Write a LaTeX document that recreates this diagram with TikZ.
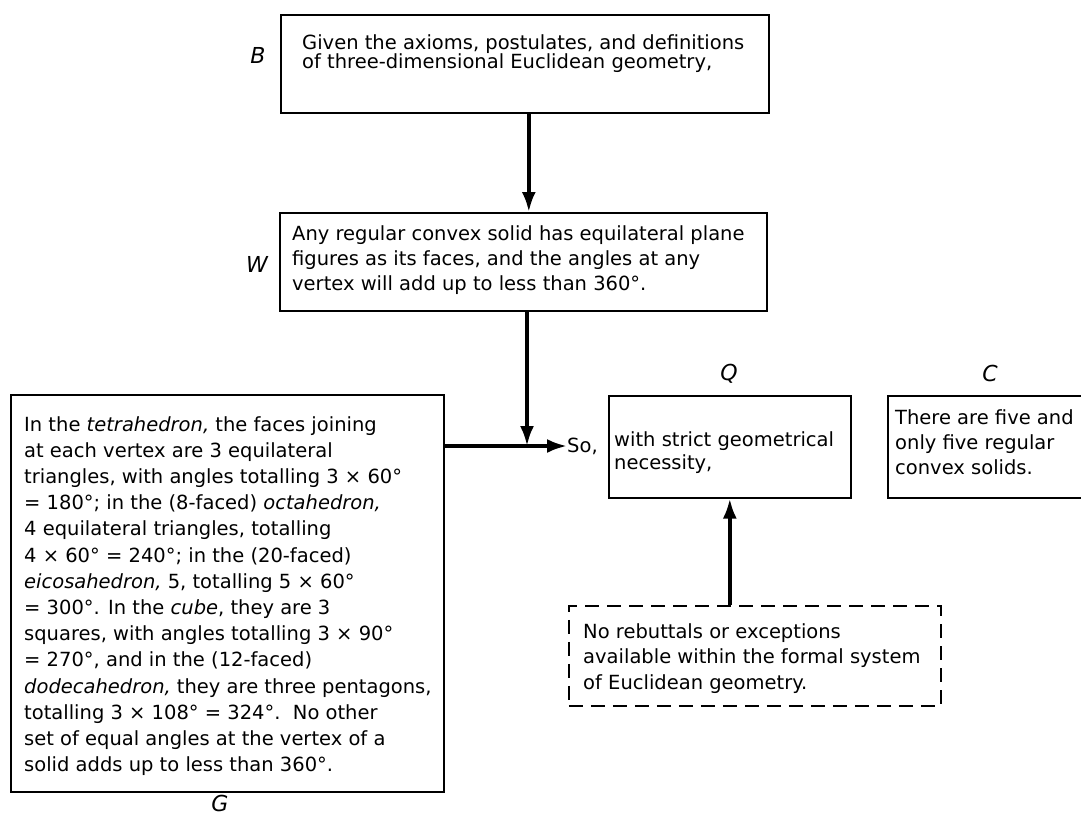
\documentclass[tikz,border=0pt]{standalone}
\usepackage{fontspec}
\setmainfont{DejaVu Sans}
\usetikzlibrary{arrows.meta}
\begin{document}
\begin{tikzpicture}[x=1pt,y=-1pt,
  box/.style={draw,line width=1.6pt,inner sep=0pt,anchor=north west},
  dbox/.style={box,dash pattern=on 14pt off 8pt},
  txt/.style={anchor=north west,inner sep=0pt,align=left},
  lbl/.style={font=\fontsize{22}{22}\selectfont\itshape,inner sep=0pt},
  arr/.style={line width=3.6pt,-{Latex[length=20pt,width=14pt]}}]
\useasboundingbox (0,0) rectangle (1081,817);

% boxes
\node[box,minimum width=488pt,minimum height=98pt] (Bbox) at (280,14) {};
\node[box,minimum width=487pt,minimum height=98pt] (Wbox) at (279,212) {};
\node[box,minimum width=433pt,minimum height=397pt] (Gbox) at (10,394) {};
\node[box,minimum width=242pt,minimum height=102pt] (Qbox) at (608,395) {};
\node[box,minimum width=210pt,minimum height=102pt] (Cbox) at (887,395) {};
\node[dbox,minimum width=372pt,minimum height=100pt] (Dbox) at (568,605) {};

% texts
\node[txt,font=\fontsize{19.5}{19.5}\selectfont] (Btext) at (302,34)
 {Given the axioms, postulates, and definitions\\of three-dimensional Euclidean geometry,};
\node[txt,font=\fontsize{19.5}{25}\selectfont] (Wtext) at (292,225)
 {Any regular convex solid has equilateral plane\\figures as its faces, and the angles at any\\vertex will add up to less than 360°.};
\node[txt,font=\fontsize{19.5}{26.2}\selectfont] (Gtext) at (24,416)
 {In the \textit{tetrahedron,} the faces joining\\
  at each vertex are 3 equilateral\\
  triangles, with angles totalling 3 × 60°\\
  = 180°; in the (8-faced) \textit{octahedron,}\\
  4 equilateral triangles, totalling\\
  4 × 60° = 240°; in the (20-faced)\\
  \textit{eicosahedron,} 5, totalling 5 × 60°\\
  = 300°. In the \textit{cube}, they are 3\\
  squares, with angles totalling 3 × 90°\\
  = 270°, and in the (12-faced)\\
  \textit{dodecahedron,} they are three pentagons,\\
  totalling 3 × 108° = 324°.\ \ No other\\
  set of equal angles at the vertex of a\\
  solid adds up to less than 360°.};
\node[txt,font=\fontsize{19.5}{23}\selectfont] (Qtext) at (614,431)
 {with strict geometrical\\necessity,};
\node[txt,font=\fontsize{19.5}{25}\selectfont] (Ctext) at (895,409)
 {There are five and\\only five regular\\convex solids.};
\node[txt,font=\fontsize{19.5}{25.5}\selectfont] (Dtext) at (583,623)
 {No rebuttals or exceptions\\available within the formal system\\of Euclidean geometry.};
\node[anchor=base west,inner sep=0pt,font=\fontsize{19.5}{19.5}\selectfont] (So) at (567,452) {So,};

% labels
\node[lbl] (Blbl) at (258,55) {B};
\node[lbl] (Wlbl) at (257,264) {W};
\node[lbl] (Qlbl) at (729,374) {Q};
\node[lbl] (Clbl) at (990,373) {C};
\node[lbl] (Glbl) at (220,803) {G};

% connectors
\coordinate (J) at (527,446);
\draw[arr] ([xshift=4pt]Bbox.south) -- ([xshift=4pt]Bbox.south |- Wbox.north);
\draw[arr] (Wbox.south -| J) -- (J);
\draw[arr] (Gbox.east |- J) -- (So.west |- J);
\draw[arr] (Qbox.south |- Dbox.north) -- (Qbox.south);
\end{tikzpicture}
\end{document}
